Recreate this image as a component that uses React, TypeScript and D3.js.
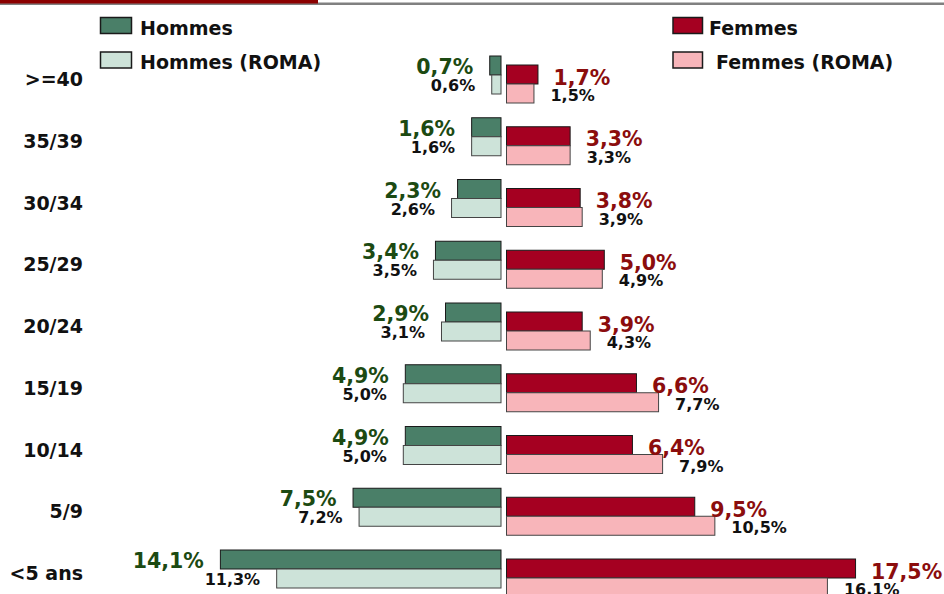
import React from "react";
import * as d3 from "d3";

const categories = [">=40", "35/39", "30/34", "25/29", "20/24", "15/19", "10/14", "5/9", "<5 ans"];
const hommes = [0.7, 1.6, 2.3, 3.4, 2.9, 4.9, 4.9, 7.5, 14.1];
const hommesRoma = [0.6, 1.6, 2.6, 3.5, 3.1, 5.0, 5.0, 7.2, 11.3];
const femmes = [1.7, 3.3, 3.8, 5.0, 3.9, 6.6, 6.4, 9.5, 17.5];
const femmesRoma = [1.5, 3.3, 3.9, 4.9, 4.3, 7.7, 7.9, 10.5, 16.1];
const legendLabels = ["Hommes", "Hommes (ROMA)", "Femmes", "Femmes (ROMA)"];

const W = 944;
const H = 594;
const FONT = "'DejaVu Sans', Verdana, sans-serif";

const C_DG = "#4a7f68";
const C_LG = "#cde3d9";
const C_DR = "#a50021";
const C_PK = "#f8b5ba";
const T_G = "#1c4a12";
const T_R = "#8b0d0d";

const fmt = (v: number) => v.toFixed(1).replace(".", ",") + "%";

export default function App() {
  const zero = 503.8;
  const xM = d3.scaleLinear().domain([0, 20]).range([zero, zero - 402]);
  const xF = d3.scaleLinear().domain([0, 20]).range([zero, zero + 402]);
  const y = d3
    .scaleBand<string>()
    .domain(categories)
    .range([56, 56 + 61.75 * categories.length])
    .paddingInner(0)
    .paddingOuter(0);
  const mEdge = 501;
  const fEdge = 506.5;
  const bh = 19;

  return (
    <div style={{ position: "fixed", left: 0, top: 0, width: W, height: H, background: "#fff" }}>
      <svg width={W} height={H} style={{ display: "block" }} fontFamily={FONT}>
        <rect x={0} y={2.5} width={W} height={2.5} fill="#808080" />
        <rect x={0} y={0} width={318} height={3.5} fill="#8b0000" />

        {/* legend */}
        <g fontWeight="bold" fontSize={19} fill="#111">
          <rect x={100.5} y={17.5} width={31} height={16} fill={C_DG} stroke="#1a1a1a" strokeWidth={1.5} />
          <text x={140} y={35}>{legendLabels[0]}</text>
          <rect x={100.5} y={52} width={31} height={16} fill={C_LG} stroke="#1a1a1a" strokeWidth={1.5} />
          <text x={140} y={69}>{legendLabels[1]}</text>
          <rect x={673} y={17.5} width={29.5} height={16} fill={C_DR} stroke="#1a1a1a" strokeWidth={1.5} />
          <text x={709} y={35}>{legendLabels[2]}</text>
          <rect x={673} y={52} width={29.5} height={16} fill={C_PK} stroke="#1a1a1a" strokeWidth={1.5} />
          <text x={716} y={69}>{legendLabels[3]}</text>
        </g>

        {categories.map((c, i) => {
          const t = y(c) as number;
          const hm = hommes[i];
          const hr = hommesRoma[i];
          const fm = femmes[i];
          const fr = femmesRoma[i];
          return (
            <g key={c}>
              <text x={83} y={t + 30} textAnchor="end" fontWeight="bold" fontSize={19} fill="#111">
                {c}
              </text>
              {/* male bars */}
              <rect x={xM(hm)} y={t} width={mEdge - xM(hm)} height={bh} fill={C_DG} stroke="#1a1a1a" strokeWidth={1} />
              <rect x={xM(hr)} y={t + bh} width={mEdge - xM(hr)} height={bh} fill={C_LG} stroke="#444" strokeWidth={1} />
              {/* female bars */}
              <rect x={fEdge} y={t + 9} width={xF(fm) - fEdge} height={bh} fill={C_DR} stroke="#1a1a1a" strokeWidth={1} />
              <rect x={fEdge} y={t + 9 + bh} width={xF(fr) - fEdge} height={bh} fill={C_PK} stroke="#444" strokeWidth={1} />
              {/* labels */}
              <text x={xM(hm) - 16.5} y={t + 18} textAnchor="end" fontWeight="bold" fontSize={20.5} fill={T_G}>
                {fmt(hm)}
              </text>
              <text x={xM(hr) - 16.5} y={t + 35} textAnchor="end" fontWeight="bold" fontSize={16} fill="#111">
                {fmt(hr)}
              </text>
              <text x={xF(fm) + 15.5} y={t + 28.5} fontWeight="bold" fontSize={20.5} fill={T_R}>
                {fmt(fm)}
              </text>
              <text x={xF(fr) + 16.5} y={t + 45} fontWeight="bold" fontSize={16} fill="#111">
                {fmt(fr)}
              </text>
            </g>
          );
        })}
      </svg>
    </div>
  );
}
